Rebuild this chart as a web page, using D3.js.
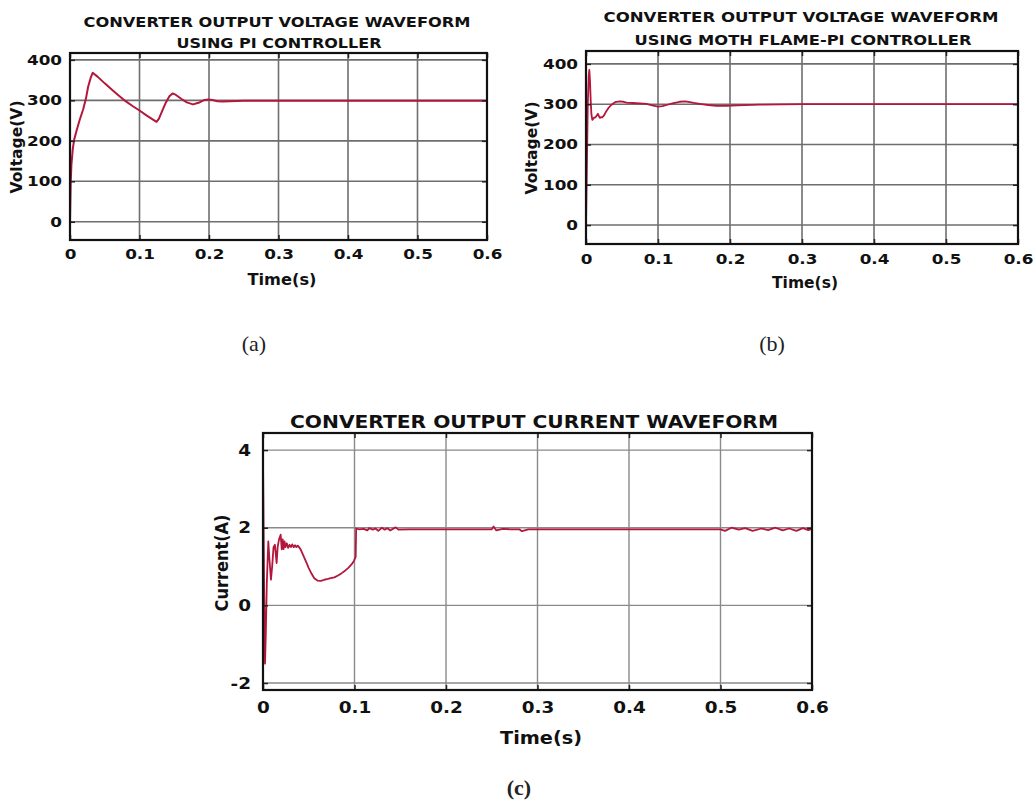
<!DOCTYPE html>
<html>
<head>
<meta charset="utf-8">
<script src="https://cdn.jsdelivr.net/npm/d3@7"></script>
<style>
  html, body { margin: 0; padding: 0; background: #fff; }
  svg { display: block; }
  .tick text { font-family: "DejaVu Sans", sans-serif; font-weight: bold; fill: #111; }
</style>
</head>
<body>
<svg id="fig" width="1035" height="800"></svg>
<script>
// Time axis (seconds) shared by all three plots
const timeTicks = [0, 0.1, 0.2, 0.3, 0.4, 0.5, 0.6];
const timeTickLabels = ["0", "0.1", "0.2", "0.3", "0.4", "0.5", "0.6"];
const voltTicks = [0, 100, 200, 300, 400];
const voltTickLabels = ["0", "100", "200", "300", "400"];
const currTicks = [-2, 0, 2, 4];
const currTickLabels = ["-2", "0", "2", "4"];

// (a) output voltage, PI controller
const timeA = [0, 0.001, 0.002, 0.004, 0.006, 0.0096, 0.014, 0.019, 0.023, 0.026, 0.03, 0.0326,
  0.04, 0.05, 0.06, 0.07, 0.08, 0.09, 0.1, 0.11, 0.12, 0.1245, 0.128, 0.133, 0.138, 0.143,
  0.1475, 0.152, 0.16, 0.168, 0.177, 0.185, 0.192, 0.199, 0.205, 0.212, 0.22, 0.23, 0.25,
  0.3, 0.4, 0.5, 0.6];
const voltA = [0, 95, 140, 180, 203, 226, 252, 278, 305, 333, 357, 368,
  358, 342, 327, 312, 298, 286, 275, 263, 252, 247, 255, 275, 295, 310,
  317, 314, 304, 295, 290, 294, 300, 302, 301, 298, 297, 298, 299,
  299, 299, 299, 299];

// (b) output voltage, moth flame optimised PI controller
const timeB = [0, 0.001, 0.0025, 0.0038, 0.0046, 0.0055, 0.0065, 0.0075, 0.0088, 0.011, 0.0135,
  0.015, 0.0165, 0.018, 0.0195, 0.021, 0.0225, 0.025, 0.028, 0.031, 0.035, 0.0403, 0.047,
  0.052, 0.0565, 0.065, 0.075, 0.084, 0.092, 0.1, 0.106, 0.112, 0.12, 0.13, 0.138, 0.144,
  0.15, 0.158, 0.17, 0.181, 0.195, 0.21, 0.241, 0.3, 0.4, 0.5, 0.6];
const voltB = [0, 120, 300, 370, 385, 360, 310, 275, 261, 266, 268,
  272, 276, 270, 266, 268, 267, 272, 282, 290, 298, 305, 307,
  306, 304, 303, 302, 301, 297, 294, 295, 298, 302, 306, 307, 305,
  303, 301, 298, 296, 296, 297, 299, 300, 300, 300, 300];

// (c) output current
const timeC = [0, 0.0005, 0.0012, 0.0022, 0.003, 0.0042, 0.0058, 0.007, 0.0087, 0.01, 0.0115,
  0.013, 0.0149, 0.016, 0.0175, 0.0193, 0.0205, 0.0215, 0.0225, 0.0235, 0.0245, 0.026,
  0.0275, 0.029, 0.0305, 0.032, 0.0335, 0.035, 0.0365, 0.038, 0.041, 0.0445, 0.0475, 0.05,
  0.053, 0.056, 0.0595, 0.0635, 0.067, 0.071, 0.074, 0.078, 0.082, 0.086, 0.09, 0.093,
  0.097, 0.0995, 0.1013, 0.1018, 0.105, 0.11, 0.114, 0.116, 0.12, 0.123, 0.126, 0.13,
  0.133, 0.136, 0.139, 0.142, 0.145, 0.148, 0.16, 0.2, 0.25, 0.252, 0.255, 0.262, 0.27,
  0.28, 0.283, 0.29, 0.35, 0.4, 0.45, 0.5, 0.505, 0.512, 0.52, 0.527, 0.535, 0.545, 0.552,
  0.56, 0.568, 0.575, 0.583, 0.59, 0.596, 0.6];
const currC = [3.75, 2.5, 0.5, -1.5, -0.8, 0.6, 1.65, 1.2, 0.66, 1.0, 1.5,
  1.56, 1.09, 1.5, 1.7, 1.82, 1.44, 1.7, 1.45, 1.65, 1.5, 1.6,
  1.48, 1.56, 1.5, 1.57, 1.5, 1.55, 1.5, 1.54, 1.45, 1.26, 1.1, 0.96,
  0.82, 0.7, 0.64, 0.63, 0.66, 0.68, 0.7, 0.72, 0.77, 0.83, 0.9, 0.96,
  1.06, 1.15, 1.25, 1.98, 1.96, 1.97, 1.93, 1.99, 1.95, 1.98, 1.92, 2.0,
  1.95, 1.99, 1.93, 1.97, 2.01, 1.95, 1.96, 1.96, 1.96, 2.03, 1.93, 1.97, 1.96,
  1.96, 1.91, 1.96, 1.96, 1.96, 1.96, 1.96, 1.92, 2.0, 1.95, 1.99, 1.92, 1.98, 1.94,
  2.0, 1.93, 1.98, 1.92, 1.99, 1.94, 1.97];

const RED = "#b3173c";
const svg = d3.select("#fig");
svg.append("rect").attr("width", 1035).attr("height", 800).attr("fill", "#fff");

function plot(cfg) {
  const x = d3.scaleLinear().domain([0, 0.6]).range([cfg.left, cfg.right]);
  const y = d3.scaleLinear().domain(cfg.yDomain).range([cfg.bottom, cfg.top]);
  const g = svg.append("g");
  const clipId = "clip-" + cfg.id;
  g.append("clipPath").attr("id", clipId).append("rect")
    .attr("x", cfg.left).attr("y", cfg.top)
    .attr("width", cfg.right - cfg.left).attr("height", cfg.bottom - cfg.top);

  // grid
  g.append("g").selectAll("line").data(timeTicks).join("line")
    .attr("x1", d => x(d)).attr("x2", d => x(d))
    .attr("y1", cfg.top).attr("y2", cfg.bottom)
    .attr("stroke", cfg.grid).attr("stroke-width", cfg.gridW);
  g.append("g").selectAll("line").data(cfg.yTicks).join("line")
    .attr("y1", d => y(d)).attr("y2", d => y(d))
    .attr("x1", cfg.left).attr("x2", cfg.right)
    .attr("stroke", cfg.grid).attr("stroke-width", cfg.gridW);

  // data trace
  const line = d3.line().x((d, i) => x(cfg.t[i])).y(d => y(d));
  g.append("path").datum(cfg.v)
    .attr("clip-path", `url(#${clipId})`)
    .attr("d", line).attr("fill", "none")
    .attr("stroke", RED).attr("stroke-width", cfg.lineW)
    .attr("stroke-linejoin", "round");

  // axes with inward ticks on all four sides
  const tick = 5;
  const bottomAx = g.append("g").attr("transform", `translate(0,${cfg.bottom})`)
    .call(d3.axisBottom(x).tickValues(timeTicks).tickSizeInner(-tick).tickSizeOuter(0)
      .tickPadding(cfg.xPad).tickFormat((d, i) => timeTickLabels[i]));
  const topAx = g.append("g").attr("transform", `translate(0,${cfg.top})`)
    .call(d3.axisTop(x).tickValues(timeTicks).tickSizeInner(-tick).tickSizeOuter(0).tickFormat(""));
  const leftAx = g.append("g").attr("transform", `translate(${cfg.left},0)`)
    .call(d3.axisLeft(y).tickValues(cfg.yTicks).tickSizeInner(-tick).tickSizeOuter(0)
      .tickPadding(cfg.yPad).tickFormat((d, i) => cfg.yLabels[i]));
  const rightAx = g.append("g").attr("transform", `translate(${cfg.right},0)`)
    .call(d3.axisRight(y).tickValues(cfg.yTicks).tickSizeInner(-tick).tickSizeOuter(0).tickFormat(""));
  [bottomAx, topAx, leftAx, rightAx].forEach(a => {
    a.select(".domain").remove();
    a.selectAll(".tick line").attr("stroke", "#222").attr("stroke-width", 1.5);
    a.selectAll(".tick text").attr("font-size", cfg.tickFont);
  });
  // wide, heavy tick lettering
  bottomAx.selectAll(".tick text").attr("dy", "0.9em")
    .attr("transform", `scale(${cfg.tickSx},1)`);
  leftAx.selectAll(".tick text").attr("x", 0)
    .attr("transform", `translate(${-cfg.yPad},0) scale(${cfg.tickSx},1)`);

  // frame
  g.append("rect").attr("x", cfg.left).attr("y", cfg.top)
    .attr("width", cfg.right - cfg.left).attr("height", cfg.bottom - cfg.top)
    .attr("fill", "none").attr("stroke", "#111").attr("stroke-width", 2.2);

  // title lines
  cfg.title.forEach(tl => {
    g.append("text").attr("x", tl.x).attr("y", tl.y).attr("dy", "0.35em")
      .attr("text-anchor", "middle")
      .attr("font-family", "DejaVu Sans, sans-serif").attr("font-weight", "bold")
      .attr("font-size", cfg.titleFont).attr("fill", "#111")
      .attr("textLength", tl.w).attr("lengthAdjust", "spacingAndGlyphs")
      .text(tl.text);
  });
  // axis labels
  g.append("text").attr("x", cfg.xLab.x).attr("y", cfg.xLab.y).attr("dy", "0.35em")
    .attr("text-anchor", "middle")
    .attr("font-family", "DejaVu Sans, sans-serif").attr("font-weight", "bold")
    .attr("font-size", cfg.labFont).attr("fill", "#111")
    .attr("textLength", cfg.xLab.w).attr("lengthAdjust", "spacingAndGlyphs")
    .text(cfg.xLab.text);
  g.append("text")
    .attr("transform", `translate(${cfg.yLab.x},${cfg.yLab.y}) rotate(-90)`)
    .attr("dy", "0.35em").attr("text-anchor", "middle")
    .attr("font-family", "DejaVu Sans, sans-serif").attr("font-weight", "bold")
    .attr("font-size", cfg.labFont).attr("fill", "#111")
    .attr("textLength", cfg.yLab.w).attr("lengthAdjust", "spacingAndGlyphs")
    .text(cfg.yLab.text);
}

plot({
  id: "a", left: 70, right: 487, top: 53, bottom: 240, yDomain: [-45, 417],
  yTicks: voltTicks, yLabels: voltTickLabels, t: timeA, v: voltA,
  grid: "#6e6e6e", gridW: 1.6, lineW: 2, tickFont: 14, tickSx: 1.2, xPad: 6, yPad: 8,
  titleFont: 14, labFont: 15,
  title: [
    { text: "CONVERTER OUTPUT VOLTAGE WAVEFORM", x: 277, y: 22, w: 387 },
    { text: "USING PI CONTROLLER", x: 279, y: 43, w: 205 }
  ],
  xLab: { text: "Time(s)", x: 282, y: 280, w: 69 },
  yLab: { text: "Voltage(V)", x: 17, y: 147, w: 93 }
});

plot({
  id: "b", left: 586, right: 1018, top: 51, bottom: 244, yDomain: [-47, 432],
  yTicks: voltTicks, yLabels: voltTickLabels, t: timeB, v: voltB,
  grid: "#6e6e6e", gridW: 1.6, lineW: 1.8, tickFont: 14, tickSx: 1.2, xPad: 7, yPad: 8,
  titleFont: 14, labFont: 15,
  title: [
    { text: "CONVERTER OUTPUT VOLTAGE WAVEFORM", x: 801, y: 17, w: 395 },
    { text: "USING MOTH FLAME-PI CONTROLLER", x: 803, y: 40, w: 337 }
  ],
  xLab: { text: "Time(s)", x: 805, y: 283, w: 66 },
  yLab: { text: "Voltage(V)", x: 532, y: 148, w: 93 }
});

plot({
  id: "c", left: 263, right: 812, top: 433, bottom: 690, yDomain: [-2.18, 4.44],
  yTicks: currTicks, yLabels: currTickLabels, t: timeC, v: currC,
  grid: "#8a8a8a", gridW: 1.4, lineW: 1.8, tickFont: 16, tickSx: 1.15, xPad: 9, yPad: 12,
  titleFont: 17, labFont: 17,
  title: [
    { text: "CONVERTER OUTPUT CURRENT WAVEFORM", x: 534, y: 422, w: 488 }
  ],
  xLab: { text: "Time(s)", x: 541, y: 738, w: 82 },
  yLab: { text: "Current(A)", x: 222, y: 563, w: 97 }
});

// sub-figure captions
const captions = [
  { text: "(a)", x: 254, y: 343, bold: false },
  { text: "(b)", x: 772, y: 343, bold: false },
  { text: "(c)", x: 519, y: 787, bold: true }
];
svg.selectAll("text.cap").data(captions).join("text").attr("class", "cap")
  .attr("x", d => d.x).attr("y", d => d.y).attr("dy", "0.35em")
  .attr("text-anchor", "middle")
  .attr("font-family", "Liberation Serif, Times New Roman, serif")
  .attr("font-size", 22).attr("font-weight", d => d.bold ? "bold" : "normal")
  .attr("fill", "#222").text(d => d.text);
</script>
</body>
</html>
